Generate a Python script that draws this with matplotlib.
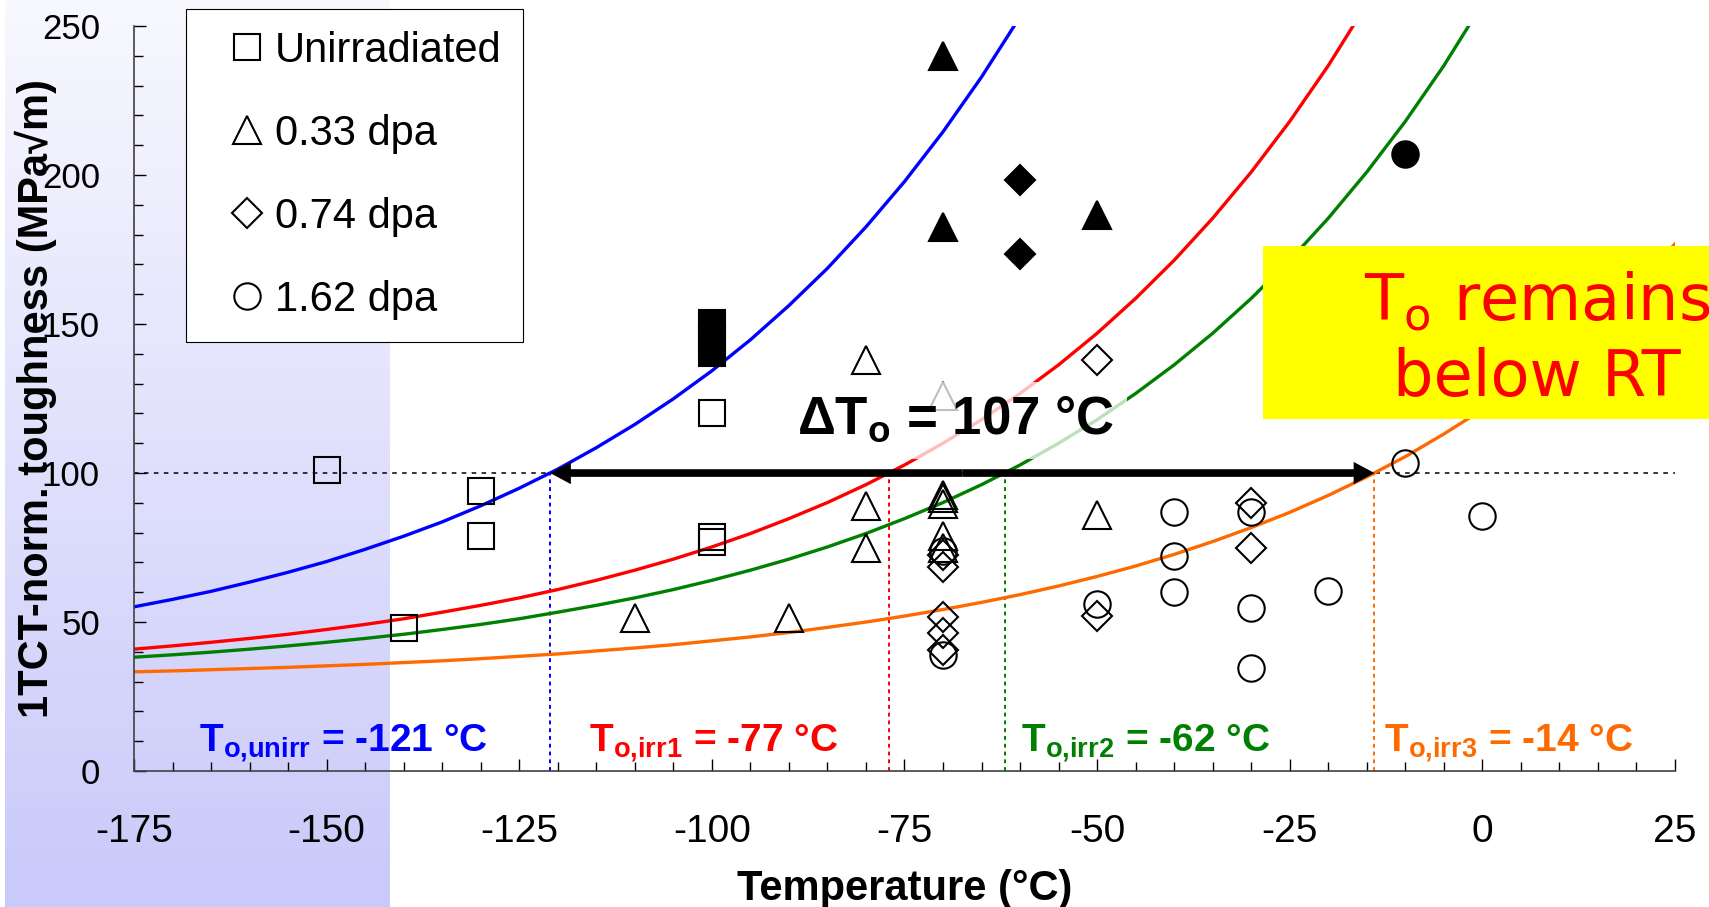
import numpy as np
import matplotlib
matplotlib.use('Agg')
import matplotlib.pyplot as plt
from matplotlib.lines import Line2D
from matplotlib.patches import Rectangle
from matplotlib.colors import LinearSegmentedColormap

plt.rcParams['font.family'] = ['Liberation Sans', 'DejaVu Sans']
plt.rcParams['mathtext.fontset'] = 'custom'
plt.rcParams['mathtext.rm'] = 'Liberation Sans'
plt.rcParams['mathtext.bf'] = 'Liberation Sans:bold'
plt.rcParams['axes.unicode_minus'] = False

# --- data ---
# master curves (K_Jc median) sampled every 5 degC
curve_T = [-175, -170, -165, -160, -155, -150, -145, -140, -135, -130, -125, -120,
           -115, -110, -105, -100, -95, -90, -85, -80, -75, -70, -65, -60, -55, -50,
           -45, -40, -35, -30, -25, -20, -15, -10, -5, 0, 5, 10, 15, 20, 25]
K_unirr = [55.1, 57.6, 60.3, 63.4, 66.7, 70.3, 74.4, 78.8, 83.6, 89.0, 94.9, 101.3,
           108.5, 116.3, 124.9, 134.3, 144.7, 156.2, 168.7, 182.6, 197.8, 214.5, 232.9, 253.1]
K_irr1 = [40.9, 42.0, 43.2, 44.5, 45.9, 47.5, 49.2, 51.1, 53.3, 55.6, 58.1, 60.9,
          64.0, 67.4, 71.1, 75.2, 79.7, 84.7, 90.1, 96.1, 102.7, 110.0, 117.9, 126.7,
          136.3, 146.9, 158.6, 171.4, 185.5, 201.0, 218.0, 236.7, 257.4]
K_irr2 = [38.2, 39.0, 39.9, 40.9, 42.0, 43.2, 44.5, 45.9, 47.5, 49.2, 51.1, 53.3,
          55.6, 58.1, 60.9, 64.0, 67.4, 71.1, 75.2, 79.7, 84.7, 90.1, 96.1, 102.7,
          110.0, 117.9, 126.7, 136.3, 146.9, 158.6, 171.4, 185.5, 201.0, 218.0, 236.7, 257.4]
K_irr3 = [33.3, 33.6, 34.0, 34.4, 34.8, 35.3, 35.8, 36.4, 37.0, 37.7, 38.5, 39.3,
          40.3, 41.3, 42.4, 43.7, 45.0, 46.5, 48.2, 50.0, 52.0, 54.2, 56.6, 59.2,
          62.1, 65.3, 68.8, 72.7, 77.0, 81.7, 86.8, 92.5, 98.7, 105.5, 113.1, 121.3,
          130.4, 140.4, 151.5, 163.6, 176.9]

t0_vals = [-121, -77, -62, -14]
k_ref = 100
curve_colors = ['#0000FF', '#FF0000', '#008000', '#FF6A00']

# test data: open = valid, filled = censored
unirr_T = [-150, -130, -130, -140, -100, -100, -100]
unirr_K = [101, 94, 79, 48, 77, 78.5, 120]
unirr_cT = [-100, -100, -100]
unirr_cK = [150.3, 145.5, 140.4]

d033_T = [-110, -90, -80, -80, -80, -70, -70, -70, -70, -70, -70, -50]
d033_K = [51.5, 51.5, 89, 75, 138, 126, 92.7, 91.5, 89.6, 79, 75, 86]
d033_cT = [-70, -70, -50]
d033_cK = [240, 182.5, 186.5]

d074_T = [-70, -70, -70, -70, -70, -50, -50, -30, -30]
d074_K = [72.5, 68.4, 51.8, 46.2, 40.6, 52, 138, 90, 75]
d074_cT = [-60, -60]
d074_cK = [198.5, 173.5]

d162_T = [-70, -70, -50, -40, -40, -40, -30, -30, -30, -20, -10, 0]
d162_K = [74, 39, 56, 87, 72, 60, 87, 54.6, 34.5, 60.5, 103.3, 85.7]
d162_cT = [-10]
d162_cK = [207]

legend_labels = ['Unirradiated', '0.33 dpa', '0.74 dpa', '1.62 dpa']

fig = plt.figure(figsize=(17.09, 9.07), dpi=100)

# lavender gradient panel on the left
bg = fig.add_axes([0.0029, 0, 0.2247, 1], zorder=-1)
bg_cmap = LinearSegmentedColormap.from_list('bg', ['#F8F8FF', '#C9C9FA'])
bg.imshow(np.linspace(0, 1, 256).reshape(-1, 1), cmap=bg_cmap, aspect='auto',
          extent=[0, 1, 0, 1], origin='upper')
bg.axis('off')

ax = fig.add_axes([0.0784, 0.1499, 0.9017, 0.8214])
ax.set_facecolor('none')

# reference line and T0 markers
ax.axhline(k_ref, color='black', ls=(0, (3, 3.5)), lw=1.1, zorder=1)
for t0, c in zip(t0_vals, curve_colors):
    ax.plot([t0, t0], [0, k_ref], color=c, ls=(0, (2, 2)), lw=1.4, zorder=1)

for K, c in zip([K_unirr, K_irr1, K_irr2, K_irr3], curve_colors):
    ax.plot(curve_T[:len(K)], K, color=c, lw=2.4, zorder=2)

ms = {'s': 19, '^': 20, 'D': 15.5, 'o': 19}
sets = [('s', unirr_T, unirr_K, unirr_cT, unirr_cK),
        ('^', d033_T, d033_K, d033_cT, d033_cK),
        ('D', d074_T, d074_K, d074_cT, d074_cK),
        ('o', d162_T, d162_K, d162_cT, d162_cK)]
for m, T, K, cT, cK in sets:
    ax.plot(T, K, ls='none', marker=m, ms=ms[m], mfc='none', mec='black', mew=1.5, zorder=3)
    ax.plot(cT, cK, ls='none', marker=m, ms=ms[m], mfc='black', mec='black', mew=1.5, zorder=3)

# double arrow between unirradiated and highest-dose T0
mid = (t0_vals[0] + t0_vals[3]) / 2
for end in [t0_vals[0], t0_vals[3]]:
    ax.annotate('', xy=(end, k_ref), xytext=(mid, k_ref),
                arrowprops=dict(arrowstyle='simple,head_length=1.5,head_width=1.6,tail_width=0.55',
                                mutation_scale=10, color='black', lw=0,
                                shrinkA=0, shrinkB=0), zorder=4)

ax.text(-68.4, 112.9, r'ΔT$_{\mathbf{o}}$ = 107 °C', fontsize=38, fontweight='bold',
        ha='center', va='baseline', zorder=5,
        bbox=dict(boxstyle='square,pad=0.25', facecolor='white', alpha=0.75, edgecolor='none'))

t0_texts = [r'T$_{\mathbf{o{,}unirr}}$ = -121 °C', r'T$_{\mathbf{o{,}irr1}}$ = -77 °C',
            r'T$_{\mathbf{o{,}irr2}}$ = -62 °C', r'T$_{\mathbf{o{,}irr3}}$ = -14 °C']
text_x = [-166.5, -116, -59.9, -12.8]
for s, x, c in zip(t0_texts, text_x, curve_colors):
    ax.text(x, 6.4, s, color=c, fontsize=28, fontweight='bold', va='baseline', zorder=5)

ax.set_xlim(-175, 25)
ax.set_ylim(0, 250)
ax.set_xticks(np.arange(-175, 26, 25))
ax.set_xticks(np.arange(-175, 26, 5), minor=True)
ax.set_yticks(np.arange(0, 251, 50))
ax.set_yticks(np.arange(0, 251, 10), minor=True)
for sp in ['top', 'right']:
    ax.spines[sp].set_visible(False)
for sp in ['left', 'bottom']:
    ax.spines[sp].set_color('#404040')
    ax.spines[sp].set_linewidth(1.2)
ax.tick_params(axis='y', which='major', direction='in', length=8.5, width=1, pad=24.5, labelsize=25)
ax.tick_params(axis='y', which='minor', direction='in', length=6.5, width=1)
ax.tick_params(axis='x', which='major', direction='in', length=8.5, width=1, pad=31, labelsize=28)
ax.tick_params(axis='x', which='minor', direction='in', length=6.5, width=1)

ax.set_xlabel('Temperature (°C)', fontsize=30, fontweight='bold')
ax.xaxis.set_label_coords(0.5, -0.173)
ax.xaxis.label.set_va('baseline')
ax.set_ylabel('1TCT-norm. toughness (MPa√m)', fontsize=30, fontweight='bold')
ax.yaxis.set_label_coords(-0.0558, 0.5)
ax.yaxis.label.set_va('baseline')

handles = [Line2D([], [], ls='none', marker=m, ms=ms[m], mfc='none', mec='black', mew=1.5)
           for m in ['s', '^', 'D', 'o']]
leg = ax.legend(handles, legend_labels, loc='upper left',
                bbox_to_anchor=(186 / 1709, 1 - 9 / 907), bbox_transform=fig.transFigure,
                fontsize=30, frameon=True, fancybox=False, edgecolor='black', framealpha=1,
                borderpad=0.52, labelspacing=1.035, handlelength=1.9, handletextpad=-0.29,
                borderaxespad=0)
leg.get_frame().set_linewidth(0.8)
leg.set_zorder(6)

# yellow call-out box on the right
fig.add_artist(Rectangle((0.739, 0.538), 0.3, 0.191, transform=fig.transFigure,
                         facecolor='#FFFF00', edgecolor='none', zorder=5))
fig.text(0.8995, 0.647, r'T$_\mathrm{o}$ remains', color='#FF0000', fontsize=46,
         family='DejaVu Sans', math_fontfamily='dejavusans', ha='center', va='baseline', zorder=6)
fig.text(0.8995, 0.5634, 'below RT', color='#FF0000', fontsize=46,
         family='DejaVu Sans', ha='center', va='baseline', zorder=6)

fig.savefig('out.png', dpi=100)
